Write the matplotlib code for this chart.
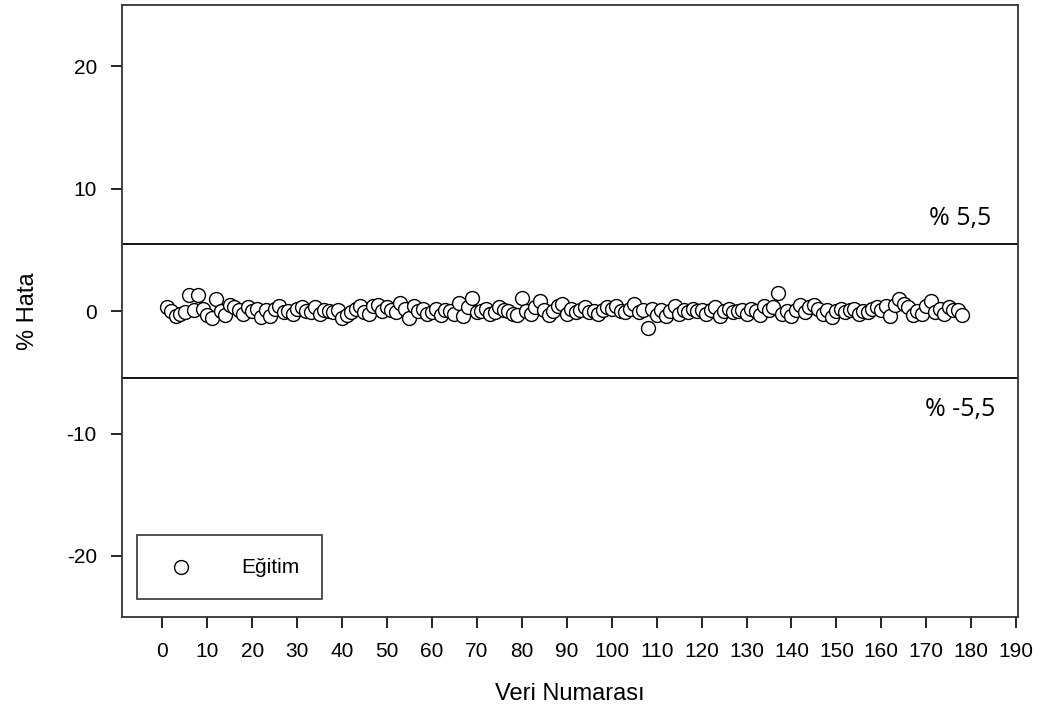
import numpy as np
import matplotlib
matplotlib.use("Agg")
import matplotlib.pyplot as plt

plt.rcParams['font.family'] = ['Liberation Sans', 'DejaVu Sans']
plt.rcParams['axes.unicode_minus'] = False

# percent error for each training sample
veri_no = list(range(1, 179))
hata = [
    0.3, 0.0, -0.4, -0.2, -0.1, 1.3, 0.1, 1.3, 0.2, -0.3,
    -0.6, 1.0, 0.0, -0.3, 0.5, 0.3, 0.1, -0.2, 0.3, 0.0,
    0.2, -0.5, 0.1, -0.4, 0.2, 0.4, -0.1, 0.0, -0.2, 0.2,
    0.3, 0.0, -0.1, 0.3, -0.2, 0.1, 0.0, -0.1, 0.1, -0.6,
    -0.3, -0.1, 0.2, 0.4, -0.1, -0.2, 0.4, 0.5, 0.0, 0.3,
    0.1, -0.1, 0.7, 0.2, -0.6, 0.4, 0.0, 0.2, -0.2, -0.1,
    0.2, -0.3, 0.1, 0.0, -0.2, 0.7, -0.4, 0.3, 1.1, -0.1,
    0.0, 0.2, -0.2, -0.1, 0.3, 0.1, 0.0, -0.2, -0.3, 1.1,
    0.0, -0.2, 0.3, 0.8, 0.1, -0.3, 0.0, 0.4, 0.6, -0.2,
    0.2, -0.1, 0.1, 0.3, -0.1, 0.0, -0.2, 0.1, 0.3, 0.2,
    0.4, 0.0, -0.1, 0.2, 0.6, -0.1, 0.1, -1.4, 0.2, -0.3,
    0.1, -0.4, 0.0, 0.4, -0.2, 0.1, -0.1, 0.2, 0.0, 0.1,
    -0.2, 0.1, 0.3, -0.4, 0.0, 0.2, -0.1, 0.0, 0.1, -0.2,
    0.2, 0.0, -0.3, 0.4, 0.1, 0.3, 1.5, -0.2, 0.0, -0.4,
    0.1, 0.5, -0.1, 0.3, 0.5, 0.2, -0.2, 0.1, -0.5, 0.0,
    0.2, -0.1, 0.1, 0.2, -0.2, 0.0, -0.1, 0.2, 0.3, 0.1,
    0.4, -0.4, 0.5, 1.0, 0.6, 0.3, -0.3, 0.0, -0.2, 0.4,
    0.8, -0.1, 0.2, -0.2, 0.3, 0.1, 0.1, -0.3,
]
limit = 5.5
limit_labels = ["% 5,5", "% -5,5"]

fig = plt.figure(figsize=(10.5, 7.21), dpi=100)
ax = fig.add_axes([0.116, 0.144, 0.8535, 0.849])

ax.axhline(limit, color="black", lw=1.3, zorder=1)
ax.axhline(-limit, color="black", lw=1.3, zorder=1)

ax.scatter(veri_no, hata, s=100, facecolors="white", edgecolors="black",
           linewidths=1.0, zorder=3, label="Eğitim")

ax.text(177.5, 7.6, limit_labels[0], ha="center", va="center", fontsize=18,
        family=["Open Sans", "DejaVu Sans"])
ax.text(177.5, -8.0, limit_labels[1], ha="center", va="center", fontsize=18,
        family=["Open Sans", "DejaVu Sans"])

ax.set_xlim(-9, 190.4)
ax.set_ylim(-25, 25)
ax.set_xticks(np.arange(0, 191, 10))
ax.set_yticks([-20, -10, 0, 10, 20])

for s in ax.spines.values():
    s.set_linewidth(1.3)
    s.set_color("#333333")

ax.tick_params(direction="out", length=8, width=1.2, labelsize=15, pad=10,
               top=False, right=False)

ax.set_xlabel("Veri Numarası", fontsize=17, labelpad=16)
ax.set_ylabel("% Hata", fontsize=17, labelpad=20)

leg = ax.legend(loc="lower left", bbox_to_anchor=(0.017, 0.029), fontsize=15,
                fancybox=False, frameon=True, borderpad=1.1, handletextpad=1.9,
                borderaxespad=0, markerscale=1.0, handlelength=2.0)
leg.get_frame().set_edgecolor("black")
leg.get_frame().set_linewidth(1.2)

fig.savefig("out.png", dpi=100)
